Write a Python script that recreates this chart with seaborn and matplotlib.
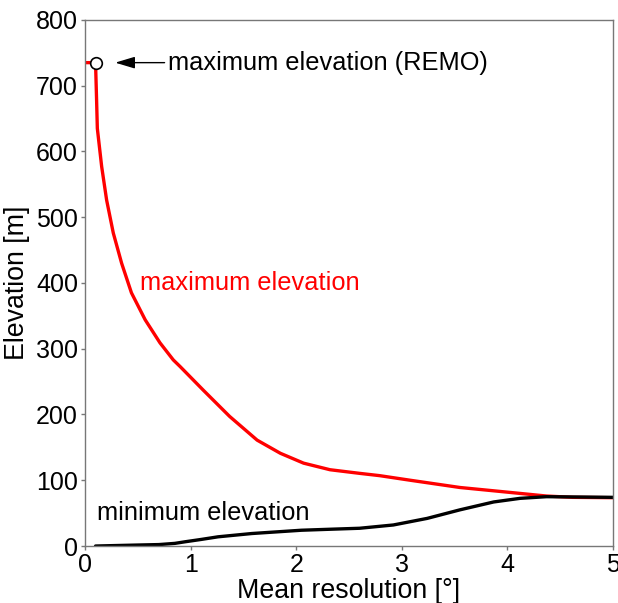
import matplotlib
matplotlib.use("Agg")
import matplotlib.pyplot as plt
import seaborn as sns
import pandas as pd

# Maximum elevation (red) curve
max_res = [0.0, 0.1, 0.11, 0.117, 0.158, 0.205, 0.268, 0.347, 0.44, 0.57, 0.71, 0.836,
           0.90, 1.12, 1.37, 1.63, 1.85, 2.07, 2.32, 2.60, 2.79, 3.08, 3.55, 3.93,
           4.37, 4.62, 5.0]
max_elev = [735, 735, 678, 635, 577, 526, 476, 430, 385, 344, 309, 283,
            273, 237, 197, 161, 141, 126, 116, 110.5, 107, 100, 89, 83,
            76, 74, 73.5]

# Minimum elevation (black) curve
min_res = [0.1, 0.5, 0.7, 0.85, 0.95, 1.1, 1.26, 1.58, 2.05, 2.32, 2.60, 2.92, 3.24, 3.55,
           3.87, 4.12, 4.37, 4.7, 5.0]
min_elev = [0, 1.5, 2.2, 4, 6.5, 10, 14, 19, 24, 25.5, 27, 32, 42, 55,
            67, 72.5, 75, 74.5, 74]

remo_res = [0.1]
remo_elev = [735]

xticks = [0, 1, 2, 3, 4, 5]
yticks = [0, 100, 200, 300, 400, 500, 600, 700, 800]

sns.set_theme(style="ticks")
plt.rcParams['font.family'] = ['Liberation Sans', 'DejaVu Sans']
plt.rcParams['lines.solid_joinstyle'] = 'round'

fig = plt.figure(figsize=(6.18, 6.03), dpi=100)
ax = fig.add_axes([0.1375, 0.0945, 0.8545, 0.8725])

df_max = pd.DataFrame({"res": max_res, "elev": max_elev})
df_min = pd.DataFrame({"res": min_res, "elev": min_elev})
sns.lineplot(data=df_max, x="res", y="elev", ax=ax, color="#ff0000", linewidth=2.4,
             sort=False, estimator=None)
sns.lineplot(data=df_min, x="res", y="elev", ax=ax, color="black", linewidth=2.4,
             sort=False, estimator=None)
sns.scatterplot(x=remo_res, y=remo_elev, ax=ax, s=70, facecolor="white",
                edgecolor="black", linewidth=1.2, zorder=5)

ax.annotate("", xy=(0.26, 735), xytext=(0.78, 735),
            arrowprops=dict(arrowstyle="-|>,head_length=1.0,head_width=0.3",
                            color="black", lw=1.0))
ax.text(0.79, 735, "maximum elevation (REMO)", fontsize=18.3, va="center", ha="left", color="black")
ax.text(0.52, 400, "maximum elevation", fontsize=18.3, va="center", ha="left", color="#ff0000")
ax.text(0.11, 50, "minimum elevation", fontsize=18.3, va="center", ha="left", color="black")

ax.set_xlim(0, 5)
ax.set_ylim(0, 800)
ax.set_xticks(xticks)
ax.set_yticks(yticks)
ax.tick_params(labelsize=18, length=3, width=1, color="#777777", labelcolor="black", pad=2)
ax.set_xlabel("Mean resolution [°]", fontsize=19.3, labelpad=1, color="black")
ax.set_ylabel("Elevation [m]", fontsize=19.3, labelpad=4, color="black")
for sp in ax.spines.values():
    sp.set_visible(True)
    sp.set_color("#777777")
    sp.set_linewidth(1.0)

fig.savefig("out.png", dpi=100)
